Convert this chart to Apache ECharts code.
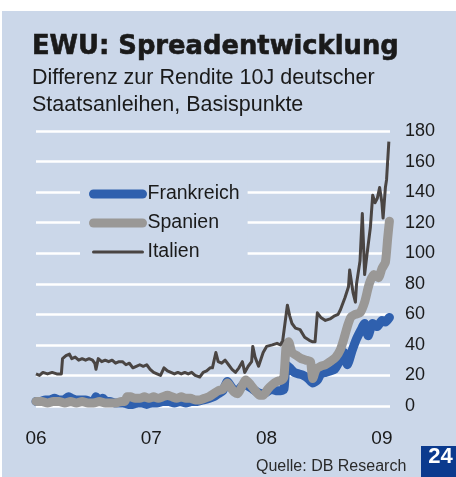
<!DOCTYPE html>
<html>
<head>
<meta charset="utf-8">
<script src="https://cdn.jsdelivr.net/npm/echarts@6/dist/echarts.min.js"></script>
<style>
    body { margin: 0; background: #fff; }
    #bg { position: absolute; left: 2px; top: 11px; width: 454px; height: 466px; background: #cbd7e9; }
    #main { position: absolute; left: 0; top: 0; width: 456px; height: 477px; }
</style>
</head>
<body>
<div id="bg"></div>
<div id="main"></div>
<script type="text/javascript">
// x-Achse: Jahre (Dezimaljahr), Beschriftung
var startYear = 2006;
var yearLabels = ['06', '07', '08', '09'];
var yTicks = [0, 20, 40, 60, 80, 100, 120, 140, 160, 180];

// Frankreich
var frX = [2006.00, 2006.04, 2006.08, 2006.12, 2006.16, 2006.20, 2006.24, 2006.28, 2006.31, 2006.35,
           2006.39, 2006.43, 2006.47, 2006.50, 2006.52, 2006.55, 2006.58, 2006.61, 2006.64, 2006.68,
           2006.72, 2006.76, 2006.80, 2006.84, 2006.88, 2006.92, 2006.96, 2007.00, 2007.05, 2007.10,
           2007.15, 2007.20, 2007.25, 2007.30, 2007.35, 2007.40, 2007.45, 2007.50, 2007.54, 2007.58,
           2007.62, 2007.66, 2007.69, 2007.72, 2007.76, 2007.80, 2007.84, 2007.88, 2007.92, 2007.96,
           2008.00, 2008.04, 2008.08, 2008.12, 2008.15, 2008.17, 2008.20, 2008.24, 2008.28, 2008.32,
           2008.36, 2008.40, 2008.44, 2008.47, 2008.51, 2008.55, 2008.59, 2008.63, 2008.67, 2008.70,
           2008.74, 2008.78, 2008.82, 2008.85, 2008.88, 2008.92, 2008.96, 2009.00, 2009.03, 2009.065];
var frY = [3, 3, 4, 4, 5, 4, 4, 6, 5, 4,
           4, 4, 3, 3, 6, 4, 5, 3, 3, 2,
           2, 2, 1, 1, 2, 2, 1, 2, 2, 3,
           3, 2, 3, 2, 3, 3, 4, 5, 6, 8,
           10, 16, 13, 10, 11, 14, 13, 11, 9, 8,
           9, 11, 10, 10, 11, 27, 25, 22, 21, 20,
           18, 15, 17, 21, 22, 23, 24, 29, 35, 27,
           36, 44, 50, 54, 46, 54, 52, 56, 55, 58];

// Spanien
var esX = [2006.00, 2006.05, 2006.10, 2006.15, 2006.20, 2006.25, 2006.30, 2006.35, 2006.40, 2006.45,
           2006.50, 2006.55, 2006.60, 2006.65, 2006.70, 2006.74, 2006.77, 2006.79, 2006.82, 2006.86,
           2006.90, 2006.94, 2006.98, 2007.02, 2007.06, 2007.10, 2007.14, 2007.18, 2007.22, 2007.26,
           2007.30, 2007.34, 2007.38, 2007.42, 2007.46, 2007.50, 2007.54, 2007.58, 2007.62, 2007.66,
           2007.69, 2007.72, 2007.75, 2007.78, 2007.82, 2007.86, 2007.90, 2007.94, 2007.97, 2008.01,
           2008.05, 2008.09, 2008.13, 2008.15, 2008.17, 2008.19, 2008.22, 2008.26, 2008.30, 2008.34,
           2008.38, 2008.40, 2008.43, 2008.47, 2008.51, 2008.55, 2008.60, 2008.64, 2008.67, 2008.70,
           2008.73, 2008.77, 2008.81, 2008.85, 2008.89, 2008.93, 2008.97, 2009.00, 2009.03, 2009.05, 2009.065];
var esY = [3, 3, 2, 3, 3, 2, 3, 2, 3, 2,
           2, 3, 2, 2, 2, 3, 3, 6, 6, 5,
           5, 6, 5, 6, 5, 6, 7, 6, 5, 6,
           5, 5, 4, 4, 5, 6, 8, 10, 11, 15,
           12, 9, 8, 12, 17, 14, 10, 7, 7, 11,
           14, 16, 17, 19, 40, 42, 35, 33, 31, 30,
           29, 18, 24, 26, 27, 29, 32, 37, 44, 52,
           58, 60, 61, 68, 80, 86, 84, 90, 94, 110, 121];

// Italien
var itX = [2006.00, 2006.03, 2006.06, 2006.10, 2006.14, 2006.18, 2006.22, 2006.23, 2006.26, 2006.29,
           2006.31, 2006.34, 2006.37, 2006.40, 2006.43, 2006.46, 2006.49, 2006.51, 2006.52, 2006.54,
           2006.57, 2006.60, 2006.63, 2006.66, 2006.69, 2006.72, 2006.75, 2006.78, 2006.81, 2006.84,
           2006.87, 2006.90, 2006.93, 2006.96, 2006.99, 2007.02, 2007.05, 2007.08, 2007.11, 2007.14,
           2007.17, 2007.20, 2007.23, 2007.26, 2007.29, 2007.32, 2007.35, 2007.38, 2007.42, 2007.45,
           2007.48, 2007.51, 2007.53, 2007.56, 2007.58, 2007.61, 2007.64, 2007.67, 2007.70, 2007.73,
           2007.76, 2007.79, 2007.81, 2007.84, 2007.87, 2007.88, 2007.90, 2007.93, 2007.97, 2008.00,
           2008.05, 2008.09, 2008.12, 2008.14, 2008.18, 2008.20, 2008.22, 2008.25, 2008.29, 2008.33,
           2008.37, 2008.40, 2008.42, 2008.44, 2008.47, 2008.51, 2008.55, 2008.59, 2008.62, 2008.64,
           2008.68, 2008.71, 2008.72, 2008.75, 2008.77, 2008.78, 2008.81, 2008.83, 2008.85, 2008.87,
           2008.90, 2008.92, 2008.94, 2008.96, 2008.98, 2009.00, 2009.01, 2009.03, 2009.04, 2009.06];
var itY = [21, 20, 22, 21, 22, 21, 21, 31, 33, 34,
           31, 32, 30, 31, 30, 31, 30, 28, 24, 31,
           29, 30, 29, 30, 28, 29, 29, 27, 28, 25,
           26, 27, 26, 27, 24, 22, 21, 20, 25, 23,
           22, 21, 22, 21, 22, 21, 22, 20, 19, 22,
           23, 25, 25, 35, 29, 28, 30, 27, 24, 22,
           25, 29, 22, 26, 29, 39, 32, 26, 35, 39,
           40, 41, 40, 43, 66, 59, 54, 51, 50, 45,
           43, 42, 42, 61, 58, 56, 57, 59, 60, 63,
           71, 78, 89, 74, 68, 80, 95, 126, 86, 99,
           117, 138, 133, 136, 143, 133, 123, 143, 148, 173];

function pairs(xs, ys) {
    var out = [];
    for (var i = 0; i < xs.length; i++) out.push([xs[i], ys[i]]);
    return out;
}

var bgColor = '#cbd7e9';
var font = 'Liberation Sans';

var myChart = echarts.init(document.getElementById('main'));
var option = {
    animation: false,
    title: [{
        text: 'EWU: Spreadentwicklung',
        left: 32, top: 34, padding: 0,
        textStyle: { fontFamily: 'DejaVu Sans', fontWeight: 'bold', fontSize: 25.8, color: '#1a1a1a',
                     textBorderColor: '#1a1a1a', textBorderWidth: 0.6 }
    }, {
        text: 'Differenz zur Rendite 10J deutscher\nStaatsanleihen, Basispunkte',
        left: 32, top: 65, padding: 0,
        textStyle: { fontFamily: font, fontWeight: 'normal', fontSize: 21.5, lineHeight: 27, color: '#1a1a1a' }
    }],
    legend: {
        orient: 'vertical',
        left: 80, top: 179,
        padding: [5, 8, 5, 9],
        backgroundColor: bgColor,
        itemWidth: 49, itemHeight: 10, itemGap: 9,
        lineStyle: { width: 'inherit', cap: 'round' },
        itemStyle: { opacity: 0 },
        textStyle: { fontFamily: font, fontSize: 19.5, lineHeight: 20, color: '#1a1a1a' },
        data: ['Frankreich', 'Spanien', 'Italien']
    },
    grid: { left: 36, right: 66, top: 131, bottom: 71 },
    xAxis: {
        type: 'value',
        min: startYear, max: 2009.07, interval: 1,
        axisLine: { show: false }, axisTick: { show: false }, splitLine: { show: false },
        axisLabel: {
            margin: 23, fontFamily: font, fontSize: 19, color: '#1a1a1a',
            formatter: function (v) {
                if (Math.abs(v - Math.round(v)) > 1e-6) return '';
                return yearLabels[Math.round(v) - startYear] || '';
            }
        }
    },
    yAxis: {
        type: 'value', position: 'right',
        min: yTicks[0], max: yTicks[yTicks.length - 1], interval: 20,
        axisLine: { show: false }, axisTick: { show: false },
        splitLine: { lineStyle: { color: '#ffffff', width: 2.5 } },
        axisLabel: { margin: 15, fontFamily: font, fontSize: 18, color: '#1a1a1a', align: 'left' }
    },
    series: [{
        name: 'Frankreich', type: 'line', showSymbol: false, symbol: 'none', smooth: 0.2,
        lineStyle: { color: '#2f60ae', width: 9, cap: 'round', join: 'round' },
        itemStyle: { color: '#2f60ae' },
        data: pairs(frX, frY)
    }, {
        name: 'Spanien', type: 'line', showSymbol: false, symbol: 'none', smooth: 0.2,
        lineStyle: { color: '#9a9896', width: 9, cap: 'round', join: 'round' },
        itemStyle: { color: '#9a9896' },
        data: pairs(esX, esY)
    }, {
        name: 'Italien', type: 'line', showSymbol: false, symbol: 'none',
        lineStyle: { color: '#4a4543', width: 3, join: 'round' },
        itemStyle: { color: '#4a4543' },
        data: pairs(itX, itY)
    }],
    graphic: [{
        type: 'text', left: 256, top: 459,
        style: { text: 'Quelle: DB Research', fontFamily: font, fontSize: 16, fill: '#2a2a2a' }
    }, {
        type: 'rect', shape: { x: 421, y: 446, width: 35, height: 31 },
        style: { fill: '#0b3a8e' }
    }, {
        type: 'text', x: 440.5, y: 457,
        style: { text: '24', fontFamily: font, fontWeight: 'bold', fontSize: 22, fill: '#ffffff',
                 align: 'center', verticalAlign: 'middle' }
    }]
};
myChart.setOption(option);
</script>
</body>
</html>
